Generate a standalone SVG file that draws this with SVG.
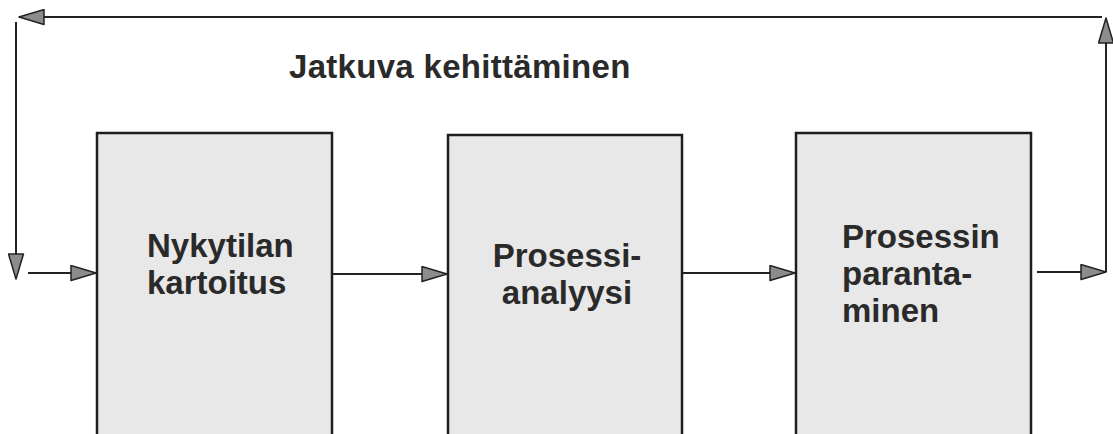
<svg xmlns="http://www.w3.org/2000/svg" width="1113" height="434" viewBox="0 0 1113 434">
<style>
.box{fill:#e8e8e8;stroke:#1e1e1e;stroke-width:2.5}
.lbl{font-family:"Liberation Sans",Arial,sans-serif;font-weight:bold;font-size:33px;fill:#2a2a2a}
.con{fill:none;stroke:#222;stroke-width:2;marker-end:url(#ah)}
</style>
<defs>
<marker id="ah" markerUnits="userSpaceOnUse" markerWidth="28" markerHeight="17" refX="25" refY="7.5" orient="auto" viewBox="-1 -1 28 17">
<path d="M0,0 L25,7.5 L0,15 Z" fill="#8c8c8c" stroke="#222" stroke-width="1.5" stroke-linejoin="round"/>
</marker>
</defs>
<rect width="1113" height="434" fill="#fff"/>
<g id="title"><text class="lbl" x="289" y="78" letter-spacing="0.3">Jatkuva kehittäminen</text></g>
<g id="node1">
<rect class="box" x="97" y="133" width="235" height="310"/>
<text class="lbl" x="147" y="257">Nykytilan</text>
<text class="lbl" x="147" y="294">kartoitus</text>
</g>
<g id="node2">
<rect class="box" x="448" y="135" width="234" height="310"/>
<text class="lbl" x="567" y="267" text-anchor="middle">Prosessi-</text>
<text class="lbl" x="567" y="304" text-anchor="middle">analyysi</text>
</g>
<g id="node3">
<rect class="box" x="796" y="133" width="235" height="310"/>
<text class="lbl" x="842" y="248">Prosessin</text>
<text class="lbl" x="842" y="285">paranta-</text>
<text class="lbl" x="842" y="322">minen</text>
</g>
<g id="connectors">
<path class="con" d="M28,273 H96"/>
<path class="con" d="M333,274 H447"/>
<path class="con" d="M683,273 H795"/>
<path class="con" d="M1037,272 H1106"/>
<path class="con" d="M1106,272 V18"/>
<path class="con" d="M1102,17 H19"/>
<path class="con" d="M16,22 V279"/>
</g>
</svg>
